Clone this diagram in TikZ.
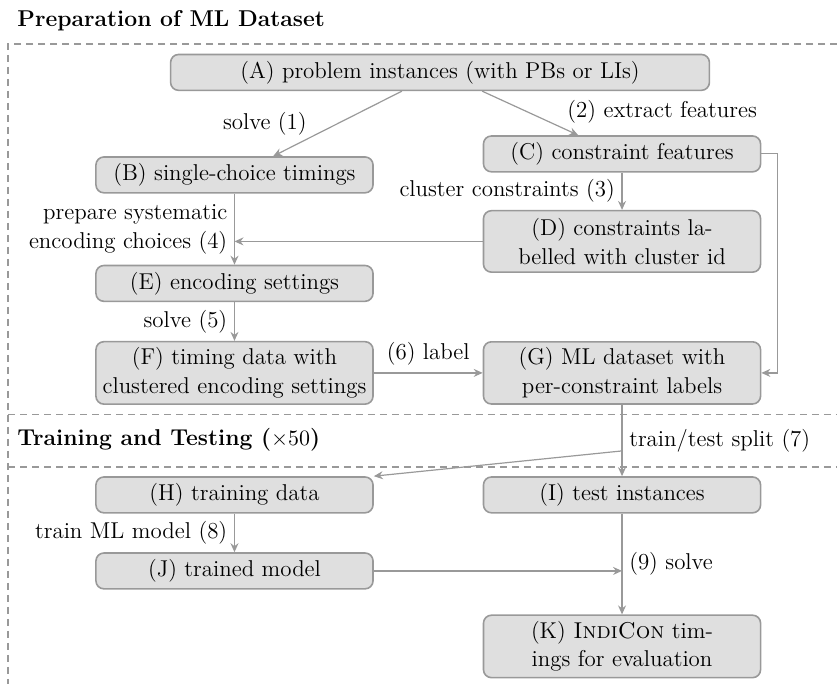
\documentclass[tikz,border=0pt]{standalone}
\usepackage{amsmath, amssymb}
\usepackage{tikz}
\usetikzlibrary{arrows.meta}

\tikzset{
    box/.style={rectangle, rounded corners=4pt, draw=gray!80, line width=0.8pt, fill=gray!25,
        minimum width=4.87cm, minimum height=0.63cm, align=center, inner sep=3pt},
    tallbox/.style={box, minimum height=1.08cm},
    flow/.style={-{Stealth[length=4.5pt, width=4pt, inset=1.5pt]}, draw=gray!80, line width=0.6pt},
    frame/.style={draw=gray!80, line width=0.6pt, dash pattern=on 3.5pt off 2.5pt}
}

\begin{document}
\begin{tikzpicture}[font=\fontsize{11.45pt}{14.3pt}\selectfont]
        \useasboundingbox (0,0) rectangle (14.71,12.02);

        % Frames and headings
        \draw[frame] (14.71,11.248) -- (0.141,11.248) -- (0.141,0);
        \draw[frame] (0.141,4.728) -- (14.71,4.728);
        \draw[frame] (0.141,3.814) -- (14.71,3.814);
        \node[anchor=base west, inner sep=0] (prep) at (0.299,11.547) {\textbf{Preparation of ML Dataset}};
        \node[anchor=base west, inner sep=0] (train) at (0.299,4.183) {\textbf{Training and Testing ($\times 50$)}};

        % Nodes of the first part
        \node[box, minimum width=9.47cm] (A) at (7.733,10.747) {(A) problem instances (with PBs or LIs)};
        \node[box] (B) at (4.121,8.946) {(B) single-choice timings};
        \node[box] (C) at (10.932,9.315) {(C) constraint features};
        \node[tallbox] (D) at (10.932,7.777) {(D) constraints la-\\belled with cluster id};
        \node[box] (E) at (4.121,7.039) {(E) encoding settings};
        \node[tallbox] (F) at (4.121,5.466) {(F) timing data with\\clustered encoding settings};
        \node[tallbox] (G) at (10.932,5.466) {(G) ML dataset with\\per-constraint labels};

        % Nodes of the second part
        \node[box] (H) at (4.121,3.322) {(H) training data};
        \node[box] (I) at (10.932,3.322) {(I) test instances};
        \node[box] (J) at (4.121,1.986) {(J) trained model};
        \node[tallbox] (K) at (10.932,0.659) {(K) \textsc{IndiCon} tim-\\ings for evaluation};
        \coordinate (split) at (10.932,4.095);

        % Arrows
        \draw[flow] ([xshift=-0.67cm]A.south) -- node[pos=0.72, above left, inner sep=1pt] {solve (1)} ([xshift=0.68cm]B.north);
        \draw[flow] ([xshift=0.74cm]A.south) -- node[pos=0.84, above right, inner sep=2pt] {(2) extract features} ([xshift=-0.77cm]C.north);
        \draw[flow] (C) -- node[midway, left] {cluster constraints (3)} (D);
        \draw[flow] (C.east) -- ++(0.28,0) |- (G.east);
        \draw[flow] (B) -- node[midway, left, align=right] {prepare systematic\\encoding choices (4)} (E);
        \draw[flow] (D.west) -- (D.west -| B);
        \draw[flow] (E) -- node[midway, left] {solve (5)} (F);
        \draw[flow] (F) -- node[midway, above] {(6) label} (G);
        \draw[flow] (G) -- node[midway, right] {train/test split (7)} (I);
        \draw[flow] (split) -- (H.north east);
        \draw[flow] (H) -- node[midway, left] {train ML model (8)} (J);
        \draw[flow] (J.east) -- (J.east -| I);
        \draw[flow] (I) -- node[midway, right] {(9) solve} (K);
    \end{tikzpicture}
\end{document}
